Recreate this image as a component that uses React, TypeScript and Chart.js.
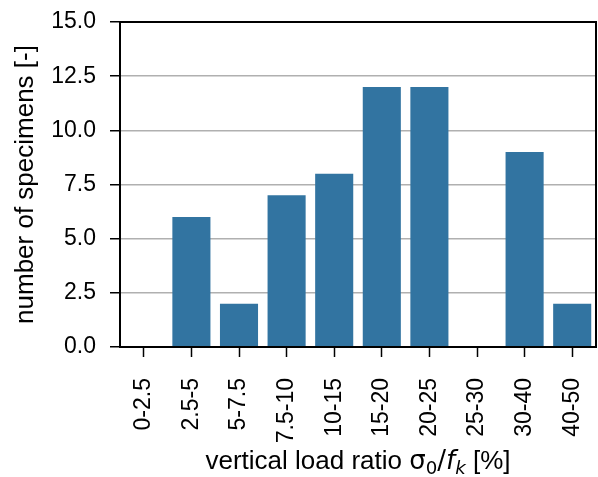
import React, { useEffect, useRef } from "react";
import { Chart, registerables } from "chart.js";

Chart.register(...registerables);

const categories = ["0-2.5", "2.5-5", "5-7.5", "7.5-10", "10-15", "15-20", "20-25", "25-30", "30-40", "40-50"];
const counts = [0, 6, 2, 7, 8, 12, 12, 0, 9, 2];
const yTicks = [0, 2.5, 5, 7.5, 10, 12.5, 15];
const yTitle = "number of specimens [-]";

const FONT = "'Liberation Sans', Arial, sans-serif";
const MATH = "'DejaVu Sans', sans-serif";
const FS = 23;
const TS = 26;

const framePlugin = {
  id: "frame",
  afterDraw(chart: any) {
    const { ctx, chartArea } = chart;
    ctx.save();
    ctx.strokeStyle = "#000";
    ctx.lineWidth = 2;
    ctx.strokeRect(chartArea.left, chartArea.top, chartArea.right - chartArea.left, chartArea.bottom - chartArea.top);
    ctx.restore();
  },
};

const titlesPlugin = {
  id: "titlesRich",
  afterDraw(chart: any) {
    const { ctx, chartArea } = chart;
    const sub = TS * 0.7;
    const pieces = [
      { t: "vertical load ratio ", font: `${TS}px ${FONT}`, dy: 0 },
      { t: "σ", font: `${TS}px ${MATH}`, dy: 0 },
      { t: "0", font: `${sub}px ${MATH}`, dy: 5 },
      { t: "/", font: `${TS}px ${MATH}`, dy: 0 },
      { t: "f", font: `italic ${TS}px ${MATH}`, dy: 0 },
      { t: "k", font: `italic ${sub}px ${MATH}`, dy: 5 },
      { t: " [%]", font: `${TS}px ${FONT}`, dy: 0 },
    ];
    ctx.save();
    ctx.fillStyle = "#000";
    ctx.textBaseline = "alphabetic";
    ctx.textAlign = "left";
    let total = 0;
    const widths = pieces.map((p) => {
      ctx.font = p.font;
      const w = ctx.measureText(p.t).width;
      total += w;
      return w;
    });
    let x = (chartArea.left + chartArea.right) / 2 - total / 2;
    const baseY = 469;
    pieces.forEach((p, i) => {
      ctx.font = p.font;
      ctx.fillText(p.t, x, baseY + p.dy);
      x += widths[i];
    });
    // y title
    ctx.translate(26, (chartArea.top + chartArea.bottom) / 2);
    ctx.rotate(-Math.PI / 2);
    ctx.font = `${TS}px ${FONT}`;
    ctx.textAlign = "center";
    ctx.textBaseline = "middle";
    ctx.fillText(yTitle, 0, 0);
    ctx.restore();
  },
};

export default function App() {
  const ref = useRef<HTMLCanvasElement>(null);
  useEffect(() => {
    document.body.style.margin = "0";
    const chart = new Chart(ref.current!, {
      type: "bar",
      data: {
        labels: categories,
        datasets: [
          {
            data: counts,
            backgroundColor: "#3274a1",
            categoryPercentage: 1,
            barPercentage: 0.8,
          },
        ],
      },
      options: {
        animation: false,
        responsive: false,
        maintainAspectRatio: false,
        layout: { padding: { top: 22, right: 2, left: 0, bottom: 0 } },
        plugins: { legend: { display: false }, tooltip: { enabled: false } },
        scales: {
          x: {
            afterFit: (s: any) => {
              s.height = 130;
              s.paddingLeft = 0;
              s.paddingRight = 0;
            },
            grid: { offset: false, drawOnChartArea: false, drawTicks: true, tickLength: 10, tickColor: "#000", tickWidth: 1.5 },
            border: { color: "#000", width: 2 },
            ticks: {
              color: "#000",
              font: { family: FONT, size: FS },
              minRotation: 90,
              maxRotation: 90,
              padding: 21,
            },
          },
          y: {
            min: 0,
            max: 15,
            afterFit: (s: any) => {
              s.width = 120;
              s.paddingTop = 0;
              s.paddingBottom = 0;
            },
            afterBuildTicks: (axis: any) => {
              axis.ticks = yTicks.map((v) => ({ value: v }));
            },
            grid: { color: "#b0b0b0", lineWidth: 1.5, tickLength: 10, tickColor: "#000", tickWidth: 1.5 },
            border: { color: "#000", width: 2 },
            ticks: {
              color: "#000",
              font: { family: FONT, size: FS },
              padding: 14,
              callback: (v: any) => Number(v).toFixed(1),
            },
          },
        },
      },
      plugins: [framePlugin, titlesPlugin],
    });
    return () => chart.destroy();
  }, []);
  return (
    <div style={{ position: "fixed", left: 0, top: 0, width: 598, height: 477, background: "#fff" }}>
      <canvas ref={ref} width={598} height={477} style={{ width: 598, height: 477 }} />
    </div>
  );
}
